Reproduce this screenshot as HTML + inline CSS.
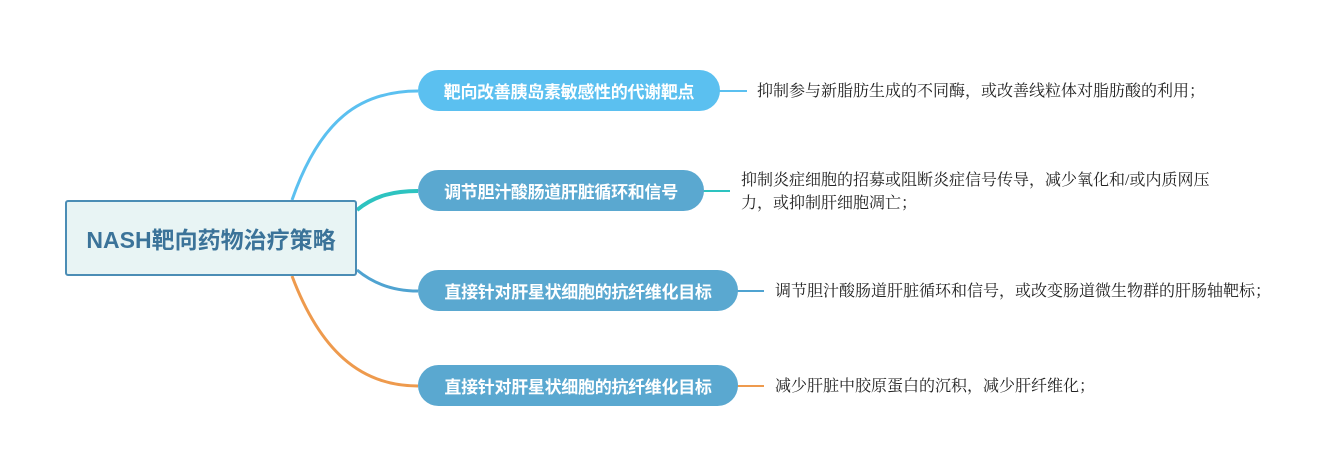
<!DOCTYPE html>
<html><head><meta charset="utf-8"><style>
body{margin:0;width:1324px;height:457px;background:#fff;position:relative;overflow:hidden;font-family:"Liberation Sans","Noto Sans CJK SC",sans-serif}
.root{position:absolute;left:65px;top:200px;width:288px;height:72px;border:2px solid #4b8db5;border-radius:3px;background:#e8f4f4;color:#3b7399;font-size:23px;font-weight:bold;display:flex;align-items:center;justify-content:center}
.n{position:absolute;left:418px;height:41px;border-radius:21px;color:#fff;font-size:17px;font-weight:bold;display:flex;align-items:center;justify-content:center;letter-spacing:-0.3px}
.t{position:absolute;font-family:"Liberation Serif","Noto Serif CJK SC",serif;font-size:16px;color:#222;line-height:23px;white-space:nowrap}
</style></head><body>
<svg width="1324" height="457" style="position:absolute;left:0;top:0">
<path d="M292 200 C 320 120, 360 91, 418 91" stroke="#5bc0f0" stroke-width="3" fill="none"/>
<path d="M357 210 C 375 195, 395 191, 418 191" stroke="#2dc3c0" stroke-width="4" fill="none"/>
<path d="M357 270 C 375 285, 395 291, 418 291" stroke="#4fa3d1" stroke-width="3" fill="none"/>
<path d="M292 276 C 320 350, 360 386, 418 386" stroke="#ee9a4d" stroke-width="3" fill="none"/>
<line x1="718" y1="91" x2="747" y2="91" stroke="#5bc0f0" stroke-width="2"/>
<line x1="702" y1="191" x2="730" y2="191" stroke="#2dc3c0" stroke-width="2"/>
<line x1="736" y1="291" x2="764" y2="291" stroke="#4fa3d1" stroke-width="2"/>
<line x1="736" y1="386" x2="764" y2="386" stroke="#ee9a4d" stroke-width="2"/>
</svg>
<div class="root">NASH靶向药物治疗策略</div>
<div class="n" style="top:70px;width:302px;background:#5bc0f0">靶向改善胰岛素敏感性的代谢靶点</div>
<div class="n" style="top:170px;width:286px;background:#5aa8d0">调节胆汁酸肠道肝脏循环和信号</div>
<div class="n" style="top:270px;width:320px;background:#5aa8d0">直接针对肝星状细胞的抗纤维化目标</div>
<div class="n" style="top:365px;width:320px;background:#5aa8d0">直接针对肝星状细胞的抗纤维化目标</div>
<div class="t" style="left:757px;top:80px">抑制参与新脂肪生成的不同酶，或改善线粒体对脂肪酸的利用；</div>
<div class="t" style="left:741px;top:169px">抑制炎症细胞的招募或阻断炎症信号传导，减少氧化和/或内质网压<br>力，或抑制肝细胞凋亡；</div>
<div class="t" style="left:775px;top:280px">调节胆汁酸肠道肝脏循环和信号，或改变肠道微生物群的肝肠轴靶标；</div>
<div class="t" style="left:775px;top:375px">减少肝脏中胶原蛋白的沉积，减少肝纤维化；</div>
</body></html>
